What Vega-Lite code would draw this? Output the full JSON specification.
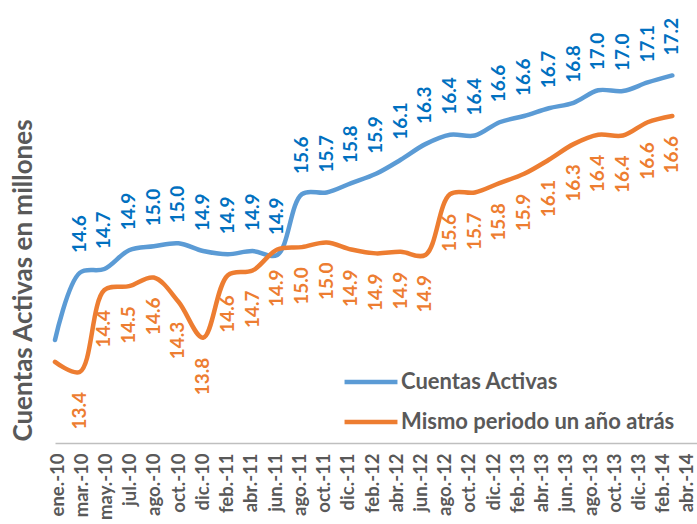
{
  "$schema": "https://vega.github.io/schema/vega-lite/v6.json",
  "width": 642,
  "height": 437,
  "autosize": "none",
  "padding": {"left": 55, "top": 6, "right": 0, "bottom": 81},
  "config": {"view": {"stroke": null}, "font": "Lato"},
  "data": {"values": [
    {"m": "ene.-10", "s": "Cuentas Activas", "v": 13.77},
    {"m": "mar.-10", "s": "Cuentas Activas", "v": 14.63},
    {"m": "may.-10", "s": "Cuentas Activas", "v": 14.68},
    {"m": "jul.-10", "s": "Cuentas Activas", "v": 14.92},
    {"m": "ago.-10", "s": "Cuentas Activas", "v": 14.97},
    {"m": "oct.-10", "s": "Cuentas Activas", "v": 15.01},
    {"m": "dic.-10", "s": "Cuentas Activas", "v": 14.91},
    {"m": "feb.-11", "s": "Cuentas Activas", "v": 14.87},
    {"m": "abr.-11", "s": "Cuentas Activas", "v": 14.91},
    {"m": "jun.-11", "s": "Cuentas Activas", "v": 14.86},
    {"m": "ago.-11", "s": "Cuentas Activas", "v": 15.64},
    {"m": "oct.-11", "s": "Cuentas Activas", "v": 15.66},
    {"m": "dic.-11", "s": "Cuentas Activas", "v": 15.78},
    {"m": "feb.-12", "s": "Cuentas Activas", "v": 15.9},
    {"m": "abr.-12", "s": "Cuentas Activas", "v": 16.08},
    {"m": "jun.-12", "s": "Cuentas Activas", "v": 16.28},
    {"m": "ago.-12", "s": "Cuentas Activas", "v": 16.4},
    {"m": "oct.-12", "s": "Cuentas Activas", "v": 16.39},
    {"m": "dic.-12", "s": "Cuentas Activas", "v": 16.56},
    {"m": "feb.-13", "s": "Cuentas Activas", "v": 16.64},
    {"m": "abr.-13", "s": "Cuentas Activas", "v": 16.74},
    {"m": "jun.-13", "s": "Cuentas Activas", "v": 16.81},
    {"m": "ago.-13", "s": "Cuentas Activas", "v": 16.97},
    {"m": "oct.-13", "s": "Cuentas Activas", "v": 16.96},
    {"m": "dic.-13", "s": "Cuentas Activas", "v": 17.07},
    {"m": "feb.-14", "s": "Cuentas Activas", "v": 17.16},
    {"m": "ene.-10", "s": "Mismo periodo un año atrás", "v": 13.49},
    {"m": "mar.-10", "s": "Mismo periodo un año atrás", "v": 13.36},
    {"m": "may.-10", "s": "Mismo periodo un año atrás", "v": 14.41},
    {"m": "jul.-10", "s": "Mismo periodo un año atrás", "v": 14.46},
    {"m": "ago.-10", "s": "Mismo periodo un año atrás", "v": 14.57},
    {"m": "oct.-10", "s": "Mismo periodo un año atrás", "v": 14.26},
    {"m": "dic.-10", "s": "Mismo periodo un año atrás", "v": 13.8},
    {"m": "feb.-11", "s": "Mismo periodo un año atrás", "v": 14.6},
    {"m": "abr.-11", "s": "Mismo periodo un año atrás", "v": 14.66},
    {"m": "jun.-11", "s": "Mismo periodo un año atrás", "v": 14.93},
    {"m": "ago.-11", "s": "Mismo periodo un año atrás", "v": 14.96},
    {"m": "oct.-11", "s": "Mismo periodo un año atrás", "v": 15.02},
    {"m": "dic.-11", "s": "Mismo periodo un año atrás", "v": 14.93},
    {"m": "feb.-12", "s": "Mismo periodo un año atrás", "v": 14.88},
    {"m": "abr.-12", "s": "Mismo periodo un año atrás", "v": 14.9},
    {"m": "jun.-12", "s": "Mismo periodo un año atrás", "v": 14.86},
    {"m": "ago.-12", "s": "Mismo periodo un año atrás", "v": 15.64},
    {"m": "oct.-12", "s": "Mismo periodo un año atrás", "v": 15.66},
    {"m": "dic.-12", "s": "Mismo periodo un año atrás", "v": 15.78},
    {"m": "feb.-13", "s": "Mismo periodo un año atrás", "v": 15.9},
    {"m": "abr.-13", "s": "Mismo periodo un año atrás", "v": 16.08},
    {"m": "jun.-13", "s": "Mismo periodo un año atrás", "v": 16.28},
    {"m": "ago.-13", "s": "Mismo periodo un año atrás", "v": 16.4},
    {"m": "oct.-13", "s": "Mismo periodo un año atrás", "v": 16.39},
    {"m": "dic.-13", "s": "Mismo periodo un año atrás", "v": 16.56},
    {"m": "feb.-14", "s": "Mismo periodo un año atrás", "v": 16.64}
  ]},
  "layer": [
    {
      "mark": {"type": "point", "opacity": 0},
      "encoding": {
        "x": {
          "field": "m", "type": "ordinal",
          "scale": {"type": "point", "padding": 0.25, "align": 0.17,
            "domain": ["ene.-10","mar.-10","may.-10","jul.-10","ago.-10","oct.-10","dic.-10","feb.-11","abr.-11","jun.-11","ago.-11","oct.-11","dic.-11","feb.-12","abr.-12","jun.-12","ago.-12","oct.-12","dic.-12","feb.-13","abr.-13","jun.-13","ago.-13","oct.-13","dic.-13","feb.-14","abr.-14"]},
          "axis": {
            "orient": "bottom", "title": null, "ticks": false,
            "domainColor": "#BFBFBF", "domainWidth": 1.5,
            "labelAngle": -90, "labelAlign": "right", "labelBaseline": "middle",
            "labelPadding": 10, "labelFont": "Lato", "labelFontSize": 18.5,
            "labelFontWeight": "bold", "labelColor": "#595959",
            "labelOverlap": false, "labelBound": false
          }
        }
      }
    },
    {
      "encoding": {
        "x": {
          "field": "m", "type": "ordinal",
          "scale": {"type": "point", "padding": 0,
            "domain": ["ene.-10","mar.-10","may.-10","jul.-10","ago.-10","oct.-10","dic.-10","feb.-11","abr.-11","jun.-11","ago.-11","oct.-11","dic.-11","feb.-12","abr.-12","jun.-12","ago.-12","oct.-12","dic.-12","feb.-13","abr.-13","jun.-13","ago.-13","oct.-13","dic.-13","feb.-14","abr.-14"]},
          "axis": null
        },
        "y": {
          "field": "v", "type": "quantitative",
          "scale": {"domain": [12.45, 18.05], "zero": false, "nice": false},
          "axis": {
            "title": "Cuentas Activas en millones",
            "labels": false, "ticks": false, "domain": false, "grid": false,
            "titleFont": "Lato", "titleFontSize": 26, "titleFontWeight": "bold",
            "titleColor": "#595959", "titleX": -32, "titleY": 274,
            "titleAngle": -90, "titleBaseline": "middle", "titleAlign": "center"
          }
        }
      },
      "layer": [
        {
          "mark": {"type": "line", "interpolate": "catmull-rom", "strokeWidth": 4.5, "strokeCap": "round"},
          "encoding": {
            "color": {
              "field": "s", "type": "nominal",
              "scale": {"domain": ["Cuentas Activas", "Mismo periodo un año atrás"], "range": ["#5B9BD5", "#ED7D31"]},
              "legend": {
                "orient": "none", "legendX": 287, "legendY": 347, "title": null,
                "symbolType": "stroke", "symbolSize": 2800, "symbolStrokeWidth": 4.5,
                "labelFont": "Lato", "labelFontSize": 22, "labelFontWeight": "bold",
                "labelColor": "#595959", "labelOffset": 1, "rowPadding": 0,
                "padding": 0, "labelLimit": 400
              }
            }
          }
        },
        {
          "transform": [{"filter": "datum.s == 'Cuentas Activas' && datum.m != 'ene.-10'"}],
          "mark": {"type": "text", "angle": 270, "align": "left", "baseline": "middle", "dx": 20,
            "font": "Lato", "fontSize": 19, "fontWeight": "bold", "color": "#0070C0"},
          "encoding": {"text": {"field": "v", "type": "quantitative", "format": ".1f"}}
        },
        {
          "transform": [{"filter": "datum.s != 'Cuentas Activas' && datum.m != 'ene.-10'"}],
          "mark": {"type": "text", "angle": 270, "align": "right", "baseline": "middle", "dx": -20,
            "font": "Lato", "fontSize": 19, "fontWeight": "bold", "color": "#ED7D31"},
          "encoding": {"text": {"field": "v", "type": "quantitative", "format": ".1f"}}
        }
      ]
    }
  ],
  "resolve": {"scale": {"x": "independent"}}
}
